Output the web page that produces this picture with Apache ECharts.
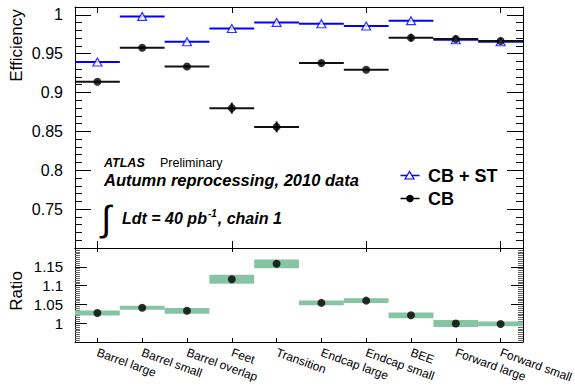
<!DOCTYPE html>
<html>
<head>
<meta charset="utf-8">
<script src="https://cdn.jsdelivr.net/npm/echarts@6/dist/echarts.min.js"></script>
<style>
html,body{margin:0;padding:0;background:#fff;}
#chart{width:575px;height:392px;}
</style>
</head>
<body>
<div id="chart"></div>
<script>
// ---- data ----
const categories = ['Barrel large','Barrel small','Barrel overlap','Feet','Transition','Endcap large','Endcap small','BEE','Forward large','Forward small'];
const cbstValues = [0.9392, 0.9979, 0.9653, 0.9824, 0.9902, 0.9885, 0.9855, 0.9924, 0.9679, 0.9653];
const cbstErrors = [0.001, 0.001, 0.001, 0.001, 0.001, 0.001, 0.001, 0.001, 0.001, 0.001];
const cbValues = [0.9138, 0.9576, 0.9335, 0.8799, 0.8558, 0.9379, 0.9293, 0.9705, 0.9688, 0.9662];
const cbErrors = [0.002, 0.002, 0.002, 0.007, 0.007, 0.002, 0.002, 0.005, 0.003, 0.002];
const ratioValues = [1.027, 1.041, 1.033, 1.117, 1.158, 1.054, 1.060, 1.021, 0.999, 0.998];
const ratioErrors = [0.0067, 0.0054, 0.0076, 0.012, 0.0117, 0.0063, 0.0063, 0.0076, 0.0094, 0.0063];
const effTickLabels = ['0.75','0.8','0.85','0.9','0.95','1'];
const ratioTickLabels = ['1','1.05','1.1','1.15'];

const FONT = "'Liberation Sans', Arial, Helvetica, sans-serif";
const BLUE = '#0000ff';
const BLACK = '#111111';
const GREEN = '#87c4a4';

function barItem(color, lw) {
  return function (params, api) {
    const i = api.value(0), v = api.value(1), e = api.value(2);
    const c = api.coord([i, v]);
    const w = api.size([1, 0])[0];
    const hi = api.coord([i, v + e]), lo = api.coord([i, v - e]);
    return {type: 'group', children: [
      {type: 'line', shape: {x1: c[0] - w / 2, y1: c[1], x2: c[0] + w / 2, y2: c[1]}, style: {stroke: color, lineWidth: lw}},
      {type: 'line', shape: {x1: c[0], y1: hi[1], x2: c[0], y2: lo[1]}, style: {stroke: color, lineWidth: lw}}
    ]};
  };
}
function boxItem(params, api) {
  const i = api.value(0), v = api.value(1), e = api.value(2);
  const hi = api.coord([i, v + e]), lo = api.coord([i, v - e]);
  const w = api.size([1, 0])[0];
  return {type: 'rect', shape: {x: hi[0] - w / 2, y: hi[1], width: w, height: lo[1] - hi[1]}, style: {fill: GREEN}};
}

function fmt(list) {
  return function (v) {
    const s = String(+(+v).toFixed(2));
    return list.indexOf(s) >= 0 ? s : '';
  };
}
function blank() { return ''; }

function xAx(grid, pos, len, showLabel) {
  return {
    type: 'category', gridIndex: grid, position: pos, data: categories, boundaryGap: true,
    axisLine: {show: true, onZero: false, lineStyle: {color: '#000', width: 1}},
    axisTick: {show: true, inside: true, alignWithLabel: true, length: len, lineStyle: {color: '#000', width: 1}},
    axisLabel: showLabel ? {show: true, interval: 0, rotate: -20, margin: 10, fontSize: 12, fontFamily: FONT, color: '#000'} : {show: false},
    splitLine: {show: false}
  };
}
function yAx(grid, pos, min, max, interval, len, minorSplit, minorLen, minorColor, labels) {
  return {
    type: 'value', gridIndex: grid, position: pos, min: min, max: max, interval: interval,
    axisLine: {show: true, onZero: false, lineStyle: {color: '#000', width: 1}},
    axisTick: {show: true, inside: true, length: len, lineStyle: {color: '#000', width: 1}},
    minorTick: {show: true, splitNumber: minorSplit, length: minorLen, lineStyle: {color: minorColor, width: 1}},
    axisLabel: labels
      ? {show: true, margin: 12, fontSize: labels.size, fontFamily: FONT, color: '#000', formatter: fmt(labels.list)}
      : {show: true, margin: 12, fontSize: 10, color: '#000', formatter: blank},
    splitLine: {show: false}
  };
}

const chart = echarts.init(document.getElementById('chart'), null, {renderer: 'svg'});
chart.setOption({
  animation: false,
  backgroundColor: '#fff',
  grid: [
    {left: 75, right: 52, top: 7, height: 241, containLabel: false, outerBoundsMode: 'none'},
    {left: 75, right: 52, top: 248, height: 94, containLabel: false, outerBoundsMode: 'none'}
  ],
  xAxis: [
    xAx(0, 'bottom', 7, false),
    xAx(0, 'top', 6, false),
    xAx(1, 'bottom', 4, true),
    xAx(1, 'top', 4, false)
  ],
  yAxis: [
    yAx(0, 'left', 0.7, 1.01, 0.05, 16, 5, 7, '#111', {size: 16, list: effTickLabels}),
    yAx(0, 'right', 0.7, 1.01, 0.05, 16, 5, 7, '#111', null),
    yAx(1, 'left', 0.95, 1.2, 0.05, 12, 10, 5, '#666', {size: 15, list: ratioTickLabels}),
    yAx(1, 'right', 0.95, 1.2, 0.05, 12, 10, 5, '#666', null)
  ],
  series: [
    {name: 'CB + ST bins', type: 'custom', xAxisIndex: 0, yAxisIndex: 0, silent: true,
      encode: {x: 0, y: 1}, renderItem: barItem(BLUE, 2),
      data: cbstValues.map((v, i) => [i, v, cbstErrors[i]])},
    {name: 'CB + ST', type: 'scatter', xAxisIndex: 0, yAxisIndex: 0, silent: true,
      symbol: 'triangle', symbolSize: [9, 8],
      itemStyle: {color: '#fff', borderColor: BLUE, borderWidth: 1.2},
      data: cbstValues.map((v, i) => [i, v])},
    {name: 'CB bins', type: 'custom', xAxisIndex: 0, yAxisIndex: 0, silent: true,
      encode: {x: 0, y: 1}, renderItem: barItem(BLACK, 2),
      data: cbValues.map((v, i) => [i, v, cbErrors[i]])},
    {name: 'CB', type: 'scatter', xAxisIndex: 0, yAxisIndex: 0, silent: true,
      symbol: 'circle', symbolSize: 8, itemStyle: {color: '#000'},
      data: cbValues.map((v, i) => [i, v])},
    {name: 'Ratio band', type: 'custom', xAxisIndex: 2, yAxisIndex: 2, silent: true,
      encode: {x: 0, y: 1}, renderItem: boxItem,
      data: ratioValues.map((v, i) => [i, v, ratioErrors[i]])},
    {name: 'Ratio', type: 'scatter', xAxisIndex: 2, yAxisIndex: 2, silent: true,
      symbol: 'circle', symbolSize: 8, itemStyle: {color: '#000'},
      data: ratioValues.map((v, i) => [i, v])}
  ],
  graphic: [
    {type: 'text', x: 16, y: 45.5, rotation: Math.PI / 2, silent: true,
      style: {text: 'Efficiency', font: '17px ' + FONT, fill: '#000', textAlign: 'center', textVerticalAlign: 'middle'}},
    {type: 'text', x: 16, y: 291, rotation: Math.PI / 2, silent: true,
      style: {text: 'Ratio', font: '17px ' + FONT, fill: '#000', textAlign: 'center', textVerticalAlign: 'middle'}},
    {type: 'text', x: 104, y: 163, silent: true,
      style: {text: 'ATLAS', font: 'italic bold 12.5px ' + FONT, fill: '#000', textAlign: 'left', textVerticalAlign: 'middle'}},
    {type: 'text', x: 160, y: 163, silent: true,
      style: {text: 'Preliminary', font: '12.5px ' + FONT, fill: '#000', textAlign: 'left', textVerticalAlign: 'middle'}},
    {type: 'text', x: 104, y: 180, silent: true,
      style: {text: 'Autumn reprocessing, 2010 data', font: 'italic bold 16.5px ' + FONT, fill: '#000', textAlign: 'left', textVerticalAlign: 'middle'}},
    {type: 'text', x: 106.5, y: 218, silent: true,
      style: {text: '\u222B', font: '36px ' + FONT, fill: '#000', textAlign: 'center', textVerticalAlign: 'middle'}},
    {type: 'text', x: 122, y: 218.5, silent: true,
      style: {text: '{a|Ldt = 40 pb}{s|-1}{a|, chain 1}', textAlign: 'left', textVerticalAlign: 'middle',
        rich: {
          a: {font: 'italic bold 16px ' + FONT, fill: '#000', color: '#000'},
          s: {font: 'italic bold 10px ' + FONT, fill: '#000', color: '#000', padding: [0, 1, 10, 1]}
        }}},
    // legend
    {type: 'line', silent: true, shape: {x1: 400.5, y1: 175.5, x2: 419.5, y2: 175.5}, style: {stroke: BLUE, lineWidth: 1.5}},
    {type: 'polygon', silent: true, shape: {points: [[409.5, 171.5], [405, 179], [414, 179]]}, style: {fill: '#fff', stroke: BLUE, lineWidth: 1.2}},
    {type: 'text', x: 428, y: 176.3, silent: true,
      style: {text: 'CB + ST', font: 'bold 18px ' + FONT, fill: '#000', textAlign: 'left', textVerticalAlign: 'middle'}},
    {type: 'line', silent: true, shape: {x1: 400.5, y1: 198.5, x2: 419.5, y2: 198.5}, style: {stroke: '#000', lineWidth: 1.5}},
    {type: 'circle', silent: true, shape: {cx: 410, cy: 198.5, r: 3.8}, style: {fill: '#000'}},
    {type: 'text', x: 428, y: 199.2, silent: true,
      style: {text: 'CB', font: 'bold 18px ' + FONT, fill: '#000', textAlign: 'left', textVerticalAlign: 'middle'}}
  ]
});
</script>
</body>
</html>
